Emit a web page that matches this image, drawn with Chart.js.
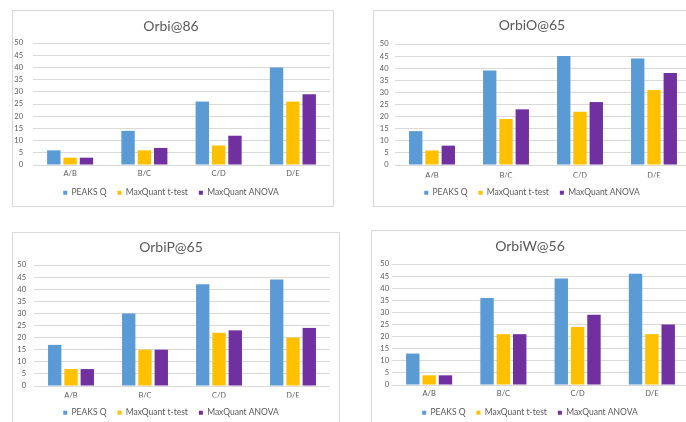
<!DOCTYPE html>
<html>
<head>
<meta charset="utf-8">
<title>Orbi charts</title>
<script src="https://cdn.jsdelivr.net/npm/chart.js@4.4.1/dist/chart.umd.min.js"></script>
<style>
  html, body { margin: 0; padding: 0; background: #fff; }
  body { width: 686px; height: 422px; overflow: hidden; position: relative; }
  .box { position: absolute; border: 1px solid #d9d9d9; box-sizing: border-box; }
  canvas { position: absolute; }
</style>
</head>
<body>
<script>
// data
const categories = ['A/B', 'B/C', 'C/D', 'D/E'];
const seriesLabels = ['PEAKS Q', 'MaxQuant t-test', 'MaxQuant ANOVA'];
const seriesColors = ['#5b9bd5', '#ffc000', '#7030a0'];
const yMax = 50;
const yStep = 5;

const orbi86Peaks = [6, 14, 26, 40];
const orbi86Ttest = [3, 6, 8, 26];
const orbi86Anova = [3, 7, 12, 29];

const orbiO65Peaks = [14, 39, 45, 44];
const orbiO65Ttest = [6, 19, 22, 31];
const orbiO65Anova = [8, 23, 26, 38];

const orbiP65Peaks = [17, 30, 42, 44];
const orbiP65Ttest = [7, 15, 22, 20];
const orbiP65Anova = [7, 15, 23, 24];

const orbiW56Peaks = [13, 36, 44, 46];
const orbiW56Ttest = [4, 21, 24, 21];
const orbiW56Anova = [4, 21, 29, 25];

// panel placement
const panels = [
  {title: 'Orbi@86', data: [orbi86Peaks, orbi86Ttest, orbi86Anova],
   left: 12, top: 10, w: 322, h: 197, yWidth: 21, yPad: 10, padRight: 4,
   titleTop: 7.6, titleBottom: 8.6, xHeight: 12.5, xPad: 4.5},
  {title: 'OrbiO@65', data: [orbiO65Peaks, orbiO65Ttest, orbiO65Anova],
   left: 373, top: 10, w: 326, h: 197, yWidth: 22, yPad: 6.5, padRight: 8,
   titleTop: 6.6, titleBottom: 10.6, xHeight: 12.5, xPad: 6},
  {title: 'OrbiP@65', data: [orbiP65Peaks, orbiP65Ttest, orbiP65Anova],
   left: 12, top: 232, w: 328, h: 195, yWidth: 22, yPad: 8, padRight: 10,
   titleTop: 6.6, titleBottom: 9.6, xHeight: 11.5, xPad: 5.5},
  {title: 'OrbiW@56', data: [orbiW56Peaks, orbiW56Ttest, orbiW56Anova],
   left: 371, top: 230, w: 328, h: 197, yWidth: 21, yPad: 3, padRight: 10,
   titleTop: 7.6, titleBottom: 9.6, xHeight: 12.5, xPad: 4.5}
];

const textColor = '#595959';
const gridColor = '#d9d9d9';

function makeChart(p){
    var box = document.createElement('div')
    box.className = 'box'
    box.style.left = p.left + 'px'
    box.style.top = p.top + 'px'
    box.style.width = p.w + 'px'
    box.style.height = p.h + 'px'
    document.body.appendChild(box)

    var canvas = document.createElement('canvas')
    canvas.width = p.w
    canvas.height = p.h
    canvas.style.left = p.left + 'px'
    canvas.style.top = p.top + 'px'
    document.body.appendChild(canvas)

    new Chart(canvas.getContext('2d'), {
        type: 'bar',
        data: {
            labels: categories,
            datasets: seriesLabels.map(function(name, i){
                return {
                    label: name,
                    data: p.data[i],
                    backgroundColor: seriesColors[i],
                    borderWidth: 0,
                    categoryPercentage: 0.66,
                    barPercentage: 0.82
                }
            })
        },
        options: {
            responsive: false,
            animation: false,
            layout: {padding: {left: 0, right: p.padRight, top: 0, bottom: 0}},
            plugins: {
                title: {
                    display: true,
                    text: p.title,
                    color: textColor,
                    font: {family: 'Lato', size: 14, weight: 'normal'},
                    padding: {top: p.titleTop, bottom: p.titleBottom}
                },
                legend: {
                    position: 'bottom',
                    labels: {
                        boxWidth: 4,
                        boxHeight: 4,
                        padding: 11,
                        color: textColor,
                        font: {family: 'Lato', size: 8.5}
                    }
                },
                tooltip: {enabled: false}
            },
            scales: {
                x: {
                    grid: {display: false, drawTicks: false},
                    border: {display: false},
                    ticks: {color: textColor, font: {family: 'Lato', size: 7.5}, padding: p.xPad},
                    afterFit: function(s){ s.height = p.xHeight }
                },
                y: {
                    min: 0,
                    max: yMax,
                    grid: {color: gridColor, drawTicks: false},
                    border: {display: false},
                    ticks: {stepSize: yStep, color: textColor, font: {family: 'Lato', size: 7.5}, padding: p.yPad},
                    afterFit: function(s){ s.width = p.yWidth }
                }
            }
        }
    })
}

panels.forEach(makeChart)
</script>
</body>
</html>
